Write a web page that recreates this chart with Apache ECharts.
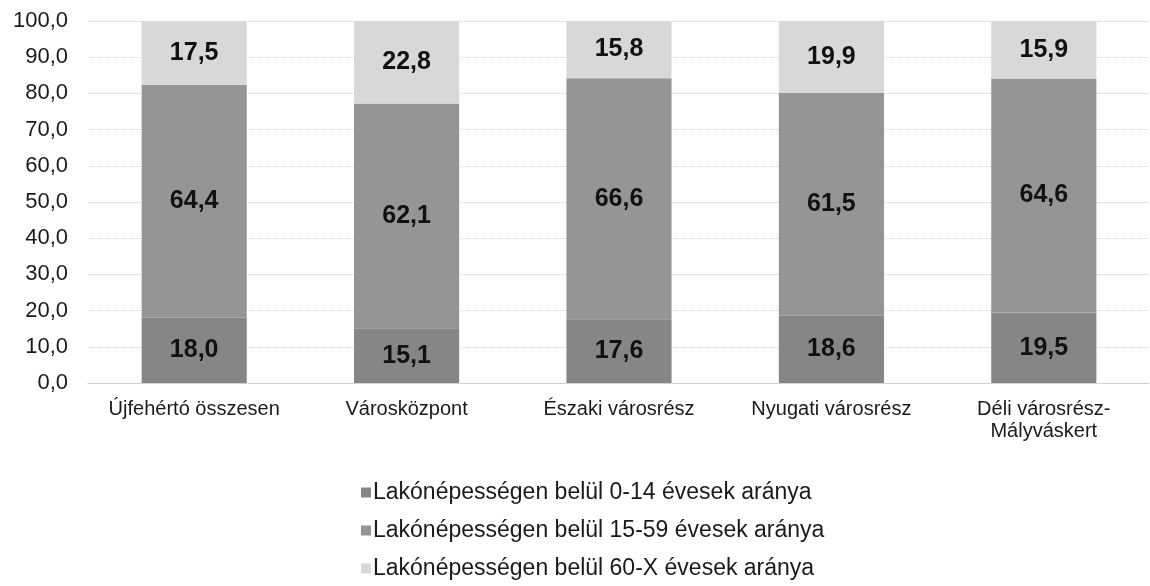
<!DOCTYPE html>
<html>
<head>
<meta charset="utf-8">
<script src="https://cdn.jsdelivr.net/npm/echarts@6/dist/echarts.min.js"></script>
<style>
html,body{margin:0;padding:0;background:#fff;}
#chart{width:1150px;height:586px;}
</style>
</head>
<body>
<div id="chart"></div>
<script>
let categories=['Újfehértó összesen','Városközpont','Északi városrész','Nyugati városrész','Déli városrész-\nMályváskert'];
let seriesNames=['Lakónépességen belül 0-14 évesek aránya','Lakónépességen belül 15-59 évesek aránya','Lakónépességen belül 60-X évesek aránya'];
let young=[18.0,15.1,17.6,18.6,19.5];
let adult=[64.4,62.1,66.6,61.5,64.6];
let old=[17.5,22.8,15.8,19.9,15.9];

let font='"Liberation Sans", Arial, sans-serif';
function fmt(v){
    return v.toFixed(1).replace('.',',');
}
let labelBase={
    show:true,
    position:'inside',
    color:'#111',
    fontFamily:font,
    fontWeight:'bold',
    fontSize:25,
    formatter:function(p){return fmt(p.value);}
};

let myChart=echarts.init(document.getElementById('chart'));
myChart.setOption({
    backgroundColor:'#fff',
    animation:false,
    grid:{left:88,top:21,width:1066,height:362},
    legend:{
        orient:'vertical',
        left:356,
        top:476,
        height:120,
        itemWidth:10,
        itemHeight:10,
        itemGap:15,
        icon:'rect',
        textStyle:{fontFamily:font,fontSize:23,color:'#1a1a1a',padding:[0,0,0,-3]},
        data:seriesNames
    },
    xAxis:{
        type:'category',
        data:categories,
        axisLine:{lineStyle:{color:'#c8c8c8',type:'dotted'}},
        axisTick:{show:false},
        axisLabel:{interval:0,fontFamily:font,fontSize:20,color:'#1a1a1a',margin:15,lineHeight:22}
    },
    yAxis:{
        type:'value',
        min:0,
        max:100,
        interval:10,
        axisLine:{show:false},
        axisTick:{show:false},
        splitLine:{lineStyle:{color:'#d4d4d4',type:'dotted'}},
        axisLabel:{fontFamily:font,fontSize:22,color:'#1a1a1a',margin:20,formatter:function(v){return fmt(v);}}
    },
    series:[
        {
            name:seriesNames[0],type:'bar',stack:'a',barWidth:'49.5%',data:young,
            itemStyle:{color:'#868686'},
            label:labelBase
        },
        {
            name:seriesNames[1],type:'bar',stack:'a',data:adult,
            itemStyle:{color:'#959595'},
            label:labelBase
        },
        {
            name:seriesNames[2],type:'bar',stack:'a',data:old,
            itemStyle:{color:'#d8d8d8'},
            label:labelBase
        }
    ]
});
</script>
</body>
</html>
